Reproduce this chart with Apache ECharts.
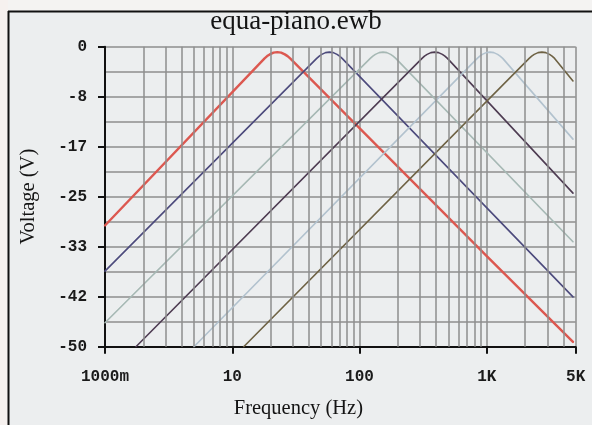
<!DOCTYPE html>
<html>
<head>
<meta charset="utf-8">
<script src="https://cdn.jsdelivr.net/npm/echarts@6/dist/echarts.min.js"></script>
<style>
  html, body { margin: 0; padding: 0; background: #f4f3f2; }
  #chart { width: 592px; height: 425px; }
</style>
</head>
<body>
<div id="chart"></div>
<script>
// Frequency axis ticks and their printed labels
const freqTicks = [1, 10, 100, 1000, 5000];
const freqTickLabels = ['1000m', '10', '100', '1K', '5K'];
// Extra vertical grid lines (2..9 of each decade)
const minorFreqs = [2, 3, 4, 5, 6, 7, 8, 9,
                    20, 30, 40, 50, 60, 70, 80, 90,
                    200, 300, 400, 500, 600, 700, 800, 900,
                    2000, 3000, 4000];

// Voltage axis range
const voltMin = -50;
const voltMax = 0;
const voltSteps = 6;

// Frequency responses of the six equaliser bands: [Hz, V]
const band1 = [[1, -29.8], [17.95, -1.95], [18.8, -1.57], [19.7, -1.28], [21.1, -0.99], [22.6, -0.9],
               [24.2, -0.99], [25.9, -1.28], [27.2, -1.57], [28.5, -1.95], [1000, -34.9], [4760, -49.2]];
const band2 = [[1, -37.4], [46.1, -1.95], [48.3, -1.57], [50.5, -1.28], [54.1, -0.99], [58, -0.9],
               [62.2, -0.99], [66.6, -1.28], [69.7, -1.57], [73.0, -1.95], [4760, -41.7]];
const band3 = [[1, -46.0], [121.5, -1.95], [127.3, -1.57], [133.3, -1.28], [142.7, -0.99], [153, -0.9],
               [164, -0.99], [175.7, -1.28], [183.9, -1.57], [192.6, -1.95], [4760, -32.5]];
const band4 = [[1.75, -50], [310, -1.95], [324, -1.57], [340, -1.28], [364, -0.99], [390, -0.9],
               [418, -0.99], [448, -1.28], [469, -1.57], [491, -1.95], [4760, -24.4]];
const band5 = [[5, -50], [842, -1.95], [882, -1.57], [923, -1.28], [989, -0.99], [1060, -0.9],
               [1136, -0.99], [1217, -1.28], [1274, -1.57], [1335, -1.95], [4760, -15.4]];
const band6 = [[12.3, -50], [2154, -1.95], [2256, -1.57], [2362, -1.28], [2530, -0.99], [2712, -0.9],
               [2907, -0.99], [3113, -1.28], [3260, -1.57], [3414, -1.95], [4760, -5.7]];

const bands = [band1, band2, band3, band4, band5, band6];
const bandColors = ['#dc5850', '#4c4a7c', '#a6b8b4', '#4e3c52', '#b2c2ce', '#6e6244'];
const bandWidths = [2.4, 1.6, 1.6, 1.6, 1.6, 1.6];

const gridColor = '#8e8e8e';
const monoFont = '"Liberation Mono", "DejaVu Sans Mono", monospace';
const serifFont = '"Liberation Serif", "DejaVu Serif", serif';

const chart = echarts.init(document.getElementById('chart'), null, { renderer: 'canvas' });

const series = bands.map((data, i) => ({
  name: 'band ' + (i + 1),
  type: 'line',
  data: data,
  showSymbol: false,
  symbol: 'none',
  smooth: false,
  z: 3,
  lineStyle: { color: bandColors[i], width: bandWidths[i], join: 'round', cap: 'round' },
  itemStyle: { color: bandColors[i] }
}));

// Decade subdivision grid lines
series.unshift({
  name: 'grid',
  type: 'line',
  data: [],
  silent: true,
  z: 1,
  markLine: {
    silent: true,
    symbol: 'none',
    animation: false,
    label: { show: false },
    lineStyle: { color: gridColor, width: 1.5, type: 'solid' },
    emphasis: { disabled: true },
    data: minorFreqs.map(f => ({ xAxis: f }))
  }
});

chart.setOption({
  animation: false,
  backgroundColor: '#eceeef',
  title: {
    text: 'equa-piano.ewb',
    left: 'center',
    top: 8,
    padding: 0,
    textStyle: { fontFamily: serifFont, fontSize: 27, fontWeight: 'normal', color: '#141414' }
  },
  grid: { left: 105, right: 16.3, top: 46.7, bottom: 78.3, containLabel: false },
  xAxis: {
    type: 'log',
    logBase: 10,
    min: freqTicks[0],
    max: freqTicks[freqTicks.length - 1],
    name: 'Frequency (Hz)',
    nameLocation: 'middle',
    nameGap: 51,
    nameTextStyle: { fontFamily: serifFont, fontSize: 20.5, color: '#141414', padding: [0, 84, 0, 0] },
    axisLine: { onZero: false, lineStyle: { color: '#111', width: 2 } },
    axisTick: { show: true, length: 7, lineStyle: { color: '#111', width: 2 } },
    axisLabel: {
      margin: 22,
      fontFamily: monoFont,
      fontWeight: 'bold',
      fontSize: 16,
      color: '#1a1a1a',
      showMinLabel: true,
      showMaxLabel: true,
      formatter: v => {
        const k = freqTicks.findIndex(t => Math.abs(t - v) / t < 1e-6);
        return k >= 0 ? freqTickLabels[k] : '';
      }
    },
    splitLine: { show: true, lineStyle: { color: gridColor, width: 1.5 } }
  },
  yAxis: {
    type: 'value',
    min: voltMin,
    max: voltMax,
    interval: (voltMax - voltMin) / voltSteps,
    name: 'Voltage (V)',
    nameLocation: 'middle',
    nameGap: 66,
    nameTextStyle: { fontFamily: serifFont, fontSize: 20.5, color: '#141414' },
    axisLine: { onZero: false, lineStyle: { color: '#111', width: 2 } },
    axisTick: { show: true, length: 7, lineStyle: { color: '#111', width: 2 } },
    axisLabel: {
      margin: 18,
      fontFamily: monoFont,
      fontWeight: 'bold',
      fontSize: 16,
      color: '#1a1a1a',
      formatter: v => String(Math.round(v) === 0 ? 0 : Math.round(v))
    },
    splitLine: { show: true, lineStyle: { color: gridColor, width: 1.5 } },
    minorTick: { show: false, splitNumber: 2 },
    minorSplitLine: { show: true, lineStyle: { color: gridColor, width: 1.5 } }
  },
  graphic: [
    // outer frame: left and top edges
    { type: 'rect', left: 0, top: 0, shape: { width: 592, height: 11 }, style: { fill: '#f4f3f2' }, z: -1, silent: true },
    { type: 'rect', left: 0, top: 0, shape: { width: 8, height: 425 }, style: { fill: '#f6f1ef' }, z: -1, silent: true },
    { type: 'line', shape: { x1: 8.5, y1: 11, x2: 8.5, y2: 425 }, style: { stroke: '#111', lineWidth: 2 }, z: 10, silent: true },
    { type: 'line', shape: { x1: 8, y1: 11.5, x2: 592, y2: 11.5 }, style: { stroke: '#111', lineWidth: 2 }, z: 10, silent: true }
  ],
  series: series
});
</script>
</body>
</html>
